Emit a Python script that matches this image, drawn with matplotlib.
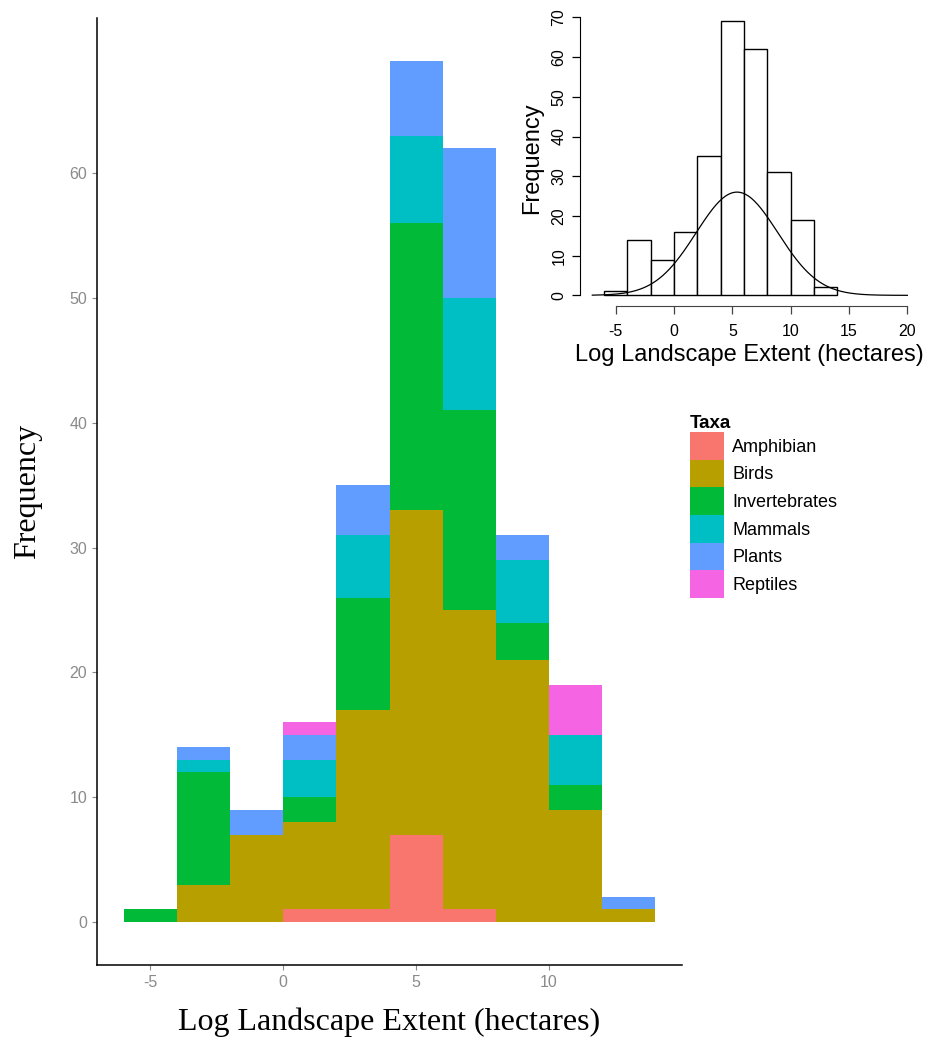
import numpy as np
import matplotlib

matplotlib.use('Agg')

from matplotlib import pyplot as plt
from matplotlib.patches import Patch

plt.rcParams['font.family'] = ['Liberation Sans', 'DejaVu Sans']
plt.rcParams['axes.unicode_minus'] = False

# histogram bins (log10 hectares), width 2
bin_edges = [-6, -4, -2, 0, 2, 4, 6, 8, 10, 12, 14]

taxa = ["Amphibian", "Birds", "Invertebrates", "Mammals", "Plants", "Reptiles"]
amphibian = [0, 0, 0, 1, 1, 7, 1, 0, 0, 0]
birds = [0, 3, 7, 7, 16, 26, 24, 21, 9, 1]
invertebrates = [1, 9, 0, 2, 9, 23, 16, 3, 2, 0]
mammals = [0, 1, 0, 3, 5, 7, 9, 5, 4, 0]
plants = [0, 1, 2, 2, 4, 6, 12, 2, 0, 1]
reptiles = [0, 0, 0, 1, 0, 0, 0, 0, 4, 0]
colours = ["#F8766D", "#B79F00", "#00BA38", "#00BFC4", "#619CFF", "#F564E3"]

# normal curve drawn over the inset histogram
curve_mean = 5.4
curve_sd = 3.5
curve_peak = 26.0

my_dpi = 100
fig = plt.figure(figsize=(931 / my_dpi, 1039 / my_dpi), dpi=my_dpi)

# main stacked histogram
ax = fig.add_axes([97 / 931, 1 - 965 / 1039, (682 - 97) / 931, (965 - 18) / 1039])
left = np.array(bin_edges[:-1])
width = np.diff(bin_edges)
bottom = np.zeros(len(left))
for name, vals, col in zip(taxa, [amphibian, birds, invertebrates, mammals, plants, reptiles], colours):
    vals = np.array(vals)
    ax.bar(left, vals, width=width, bottom=bottom, align='edge', color=col, linewidth=0)
    bottom = bottom + vals
totals = bottom

ax.set_xlim(-7, 15)
ax.set_ylim(-3.45, 72.45)
ax.set_xticks([-5, 0, 5, 10])
ax.set_yticks([0, 10, 20, 30, 40, 50, 60])
for s in ['top', 'right']:
    ax.spines[s].set_visible(False)
for s in ['left', 'bottom']:
    ax.spines[s].set_color('black')
    ax.spines[s].set_linewidth(1.1)
ax.tick_params(colors='#8a8a8a', labelsize=11.5, length=3.5, width=0.8)
ax.set_xlabel('Log Landscape Extent (hectares)', family='Liberation Serif', fontsize=23, labelpad=13)
ax.set_ylabel('Frequency', family='Liberation Serif', fontsize=23, labelpad=20)

# legend
handles = [Patch(facecolor=c, edgecolor='none') for c in colours]
leg = fig.legend(handles, taxa, loc='upper left', bbox_to_anchor=(690 / 931, 1 - 415 / 1039),
                 frameon=False, fontsize=13, title='Taxa', handlelength=1.87, handleheight=1.98,
                 labelspacing=0.0, handletextpad=0.47, borderpad=0, borderaxespad=0)
leg.get_title().set_fontweight('bold')
leg.get_title().set_fontsize(13.5)
leg._legend_box.align = 'left'

# inset: base-R style histogram with fitted normal curve
ax2 = fig.add_axes([579.7 / 931, 1 - 306.3 / 1039, (920 - 579.7) / 931, (306.3 - 10.4) / 1039])
ax2.bar(left, totals, width=width, align='edge', facecolor='white', edgecolor='black', linewidth=1)
xs = np.linspace(-7, 20, 300)
ax2.plot(xs, curve_peak * np.exp(-0.5 * ((xs - curve_mean) / curve_sd) ** 2), color='black', linewidth=0.9)
ax2.set_xlim(-8.08, 21.08)
ax2.set_ylim(-2.76, 71.76)
ax2.set_xticks([-5, 0, 5, 10, 15, 20])
ax2.set_yticks([0, 10, 20, 30, 40, 50, 60, 70])
for s in ['top', 'right']:
    ax2.spines[s].set_visible(False)
ax2.spines['left'].set_bounds(0, 70)
ax2.spines['bottom'].set_bounds(-5, 20)
ax2.spines['bottom'].set_color('#444444')
ax2.tick_params(labelsize=11.5, length=6, width=0.9, colors='black')
ax2.tick_params(axis='x', color='#444444', pad=7)
plt.setp(ax2.get_yticklabels(), rotation=90, va='center')
ax2.set_xlabel('Log Landscape Extent (hectares)', fontsize=17, labelpad=3)
ax2.set_ylabel('Frequency', fontsize=17, labelpad=6)

plt.savefig('out.png', dpi=my_dpi)
